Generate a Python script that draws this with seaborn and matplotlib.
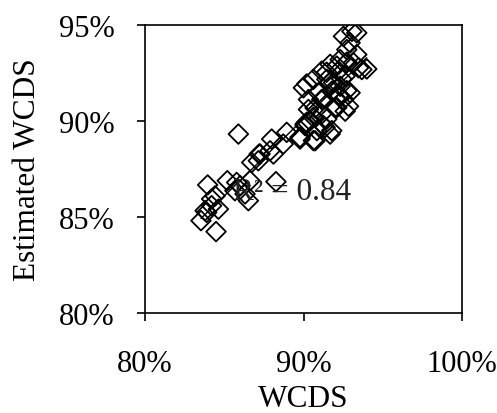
import matplotlib
matplotlib.use("Agg")
import matplotlib.pyplot as plt
import seaborn as sns
import pandas as pd
from matplotlib.ticker import PercentFormatter

# WCDS (%) vs estimated WCDS (%)
wcds = [83.53, 84.48, 83.95, 83.89, 84.20, 84.63, 84.42, 85.19, 85.78, 85.67,
        86.00, 86.52, 86.31, 86.62, 86.73, 87.20, 87.99, 88.72, 88.10, 85.89,
        88.26, 84.20, 83.79, 87.15, 87.89, 87.26, 89.78, 90.62, 90.10, 89.78,
        90.73, 91.68, 90.20, 90.62, 91.15, 90.31, 91.36, 89.99, 90.62, 91.15,
        91.68, 92.31, 92.63, 92.52, 92.84, 92.10, 91.79, 92.31, 92.94, 93.47,
        93.68, 93.36, 92.94, 92.52, 93.36, 93.05, 92.73, 92.20, 91.47, 91.89,
        90.94, 90.31, 90.73, 91.15, 92.10, 93.15, 92.31, 92.63, 91.47, 90.84,
        90.10, 93.99, 92.73, 91.46, 90.20, 91.67, 92.41, 92.73, 92.20, 91.99,
        91.25, 90.41, 91.25, 91.78, 88.94]
est = [84.81, 84.24, 86.67, 85.24, 85.59, 85.41, 86.10, 86.89, 86.80, 86.37,
       86.63, 85.85, 86.20, 86.89, 87.84, 88.28, 89.06, 88.80, 88.28, 89.32,
       86.84, 85.94, 85.33, 87.93, 88.45, 88.28, 89.15, 88.98, 89.84, 89.06,
       88.97, 89.32, 89.93, 90.19, 90.37, 90.60, 89.67, 91.73, 92.17, 92.60,
       92.95, 93.20, 92.34, 91.13, 90.77, 90.70, 91.55, 91.81, 91.47, 92.77,
       92.68, 93.46, 94.07, 94.41, 94.59, 94.67, 93.72, 92.60, 92.17, 92.00,
       91.47, 91.12, 90.68, 91.12, 92.86, 93.03, 91.30, 90.51, 90.10, 89.50,
       89.76, 92.71, 93.06, 92.54, 91.93, 92.02, 92.19, 91.58, 91.32, 90.71,
       91.15, 90.02, 89.76, 89.50, 89.41]
r2_label = "R² = 0.84"

df = pd.DataFrame({"WCDS": wcds, "Estimated WCDS": est})

sns.set_style("white")
plt.rcParams["font.family"] = ["Liberation Serif", "DejaVu Serif"]

fig = plt.figure(figsize=(4.97, 4.14), dpi=100)
ax = fig.add_axes([0.2918, 0.2415, 0.6378, 0.6957])

sns.regplot(data=df, x="WCDS", y="Estimated WCDS", ax=ax, ci=None,
            color="black", marker="D",
            scatter_kws={"s": 100, "facecolors": "none", "edgecolors": "black",
                         "linewidths": 1.3, "alpha": 1},
            line_kws={"linewidth": 1, "color": "black"})

ax.text(85.55, 85.94, r2_label, fontsize=22.5, color="#222222",
        va="baseline", zorder=10)

ax.set_xlim(80, 100)
ax.set_ylim(80, 95)
ax.set_xticks([80, 90, 100])
ax.set_yticks([80, 85, 90, 95])
ax.xaxis.set_major_formatter(PercentFormatter(decimals=0))
ax.yaxis.set_major_formatter(PercentFormatter(decimals=0))

for s in ax.spines.values():
    s.set_color("black")
    s.set_linewidth(1.2)
ax.tick_params(axis="both", direction="out", length=6, width=1.2, color="black",
               labelsize=22, labelcolor="black", bottom=True, left=True)
ax.tick_params(axis="x", pad=20)
ax.tick_params(axis="y", pad=16)

ax.set_xlabel("WCDS", fontsize=22.5, color="black", labelpad=4)
ax.set_ylabel("Estimated WCDS", fontsize=22.5, color="black", labelpad=12)

fig.savefig("out.png", dpi=100)
